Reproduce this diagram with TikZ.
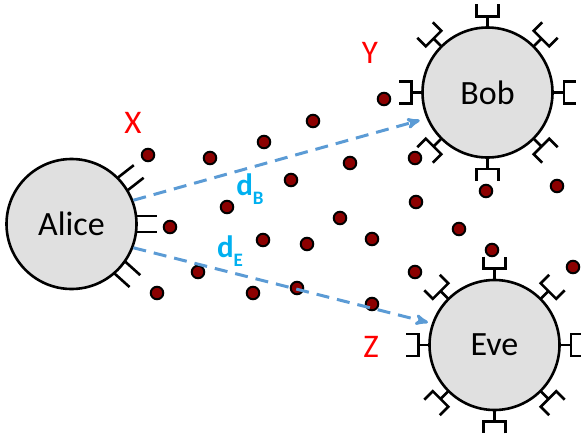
\documentclass[tikz,border=0pt]{standalone}
\usepackage{fontspec}
\setmainfont{Carlito}
\usetikzlibrary{arrows,calc}

\definecolor{cellgray}{RGB}{224,224,224}
\definecolor{dotred}{RGB}{140,0,0}
\definecolor{linkblue}{RGB}{91,155,213}
\definecolor{distcyan}{RGB}{0,176,240}
\newcommand{\dsub}[1]{d\raisebox{-0.3em}{\fontsize{19}{20}\selectfont #1}}

\begin{document}
\begin{tikzpicture}[x=1pt,y=-1pt,>=stealth',
	party/.style={circle,draw,line width=2.6pt,fill=cellgray,minimum size=130pt,inner sep=0pt,font=\fontsize{34}{36}\selectfont},
	particle/.style={circle,draw,line width=2pt,fill=dotred,minimum size=12.5pt,inner sep=0pt},
	site/.style={text=red,font=\fontsize{33}{35}\selectfont},
	dist/.style={text=distcyan,font=\fontsize{31}{33}\selectfont\bfseries},
	link/.style={->,draw=linkblue,line width=3pt,dash pattern=on 13pt off 8pt},
	receptor/.pic={\draw[line width=2.6pt] (-1,0) -- (10,0) (22,-11) -- (10,-11) -- (10,11) -- (22,11);},
	stub/.pic={\draw[line width=2.6pt] (-1,-8) -- (19,-8) (-1,8) -- (19,8);}]
			\useasboundingbox (0,0) rectangle (581,434);
			\clip (0,0) rectangle (581,434);
			% the three parties
			\node[party] (alice) at (71.5,224) {Alice};
			\node[party] (bob) at (487.5,92.5) {Bob};
			\node[party] (eve) at (494.5,345) {Eve};
			\foreach \a in {38,0,-42}
				\pic[rotate=\a] at (alice.\a) {stub};
			\foreach \a in {0,45,...,315} {
				\pic[rotate=\a] at (bob.\a) {receptor};
				\pic[rotate=\a] at (eve.\a) {receptor};
			}
			% photons in the channel
			\foreach \px/\py [count=\i] in {148/155,210/158,264/142,313/121,384/99,350/163,415/158,291/180,
				227/207,170/227,340/218,416/202,263/240,307/244,372/239,198/272,157/293,253/293,
				297/288,372/304,415/272,486/191,557/186,459/229,492/250,573/267}
				\node[particle] (dot\i) at (\px,\py) {};
			\node[site] (x) at (133,123) {X};
			\node[site] (y) at (370,53) {Y};
			\node[site] (z) at (371,347) {Z};
			\draw[link,shorten >=7pt] (alice.21) -- (bob.203);
			\draw[link,shorten >=4pt] (alice.-21) -- (eve.161);
			\node[dist] (db) at (250,189) {\dsub{B}};
			\node[dist] (de) at (230,251) {\dsub{E}};
		\end{tikzpicture}
\end{document}
